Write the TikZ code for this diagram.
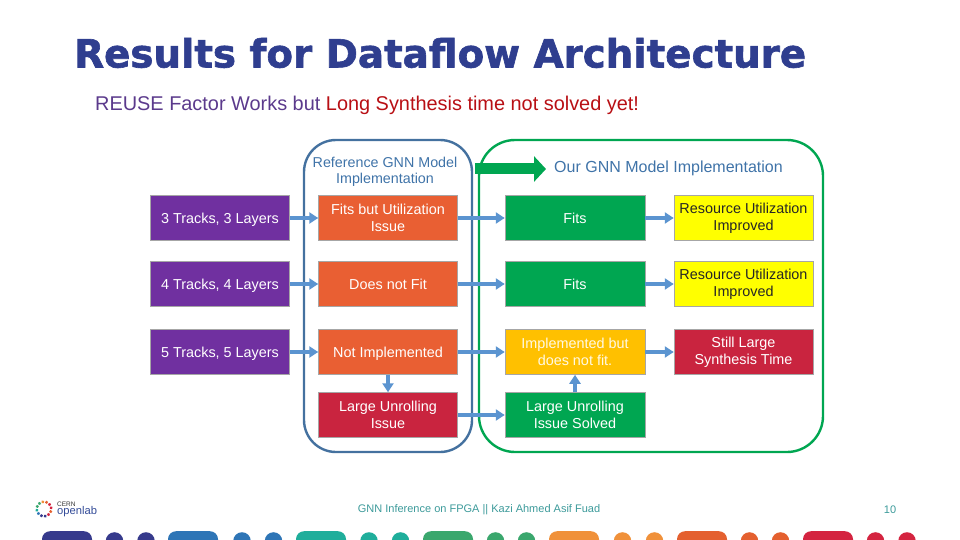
\documentclass[tikz,border=0pt]{standalone}
\usepackage{fontspec}
\setmainfont{Liberation Sans}
\newfontfamily\titlefont[BoldFeatures={FakeBold=1.6}]{DejaVu Sans}
\usetikzlibrary{positioning}
\usetikzlibrary{arrows.meta}
\definecolor{purplebox}{HTML}{7030A0}
\definecolor{orangebox}{HTML}{E95F33}
\definecolor{greenbox}{HTML}{00A651}
\definecolor{redbox}{HTML}{C9243F}
\definecolor{yellowbox}{HTML}{FFFF00}
\definecolor{amberbox}{HTML}{FFC000}
\definecolor{flowblue}{HTML}{5B94D0}
\definecolor{frameblue}{HTML}{44719F}
\definecolor{textblue}{HTML}{3F73A8}
\definecolor{titleblue}{HTML}{2F3E8F}
\definecolor{footteal}{HTML}{3C9A9A}
\definecolor{subpurple}{HTML}{5B3A8C}
\definecolor{subred}{HTML}{B80F14}
\definecolor{stripnavy}{HTML}{363A8C}
\definecolor{stripblue}{HTML}{2E75B6}
\definecolor{stripteal}{HTML}{1FAE9B}
\definecolor{stripgreen}{HTML}{3AA76D}
\definecolor{striporange}{HTML}{F0913A}
\definecolor{stripflame}{HTML}{E4602F}
\definecolor{stripred}{HTML}{D42440}
\tikzset{
    box/.style={draw=black!35, line width=0.5pt, minimum width=139pt, minimum height=45pt, inner sep=0pt, align=center, text=white, font=\fontsize{14.4}{17}\selectfont},
    single/.style={text height=13pt, text depth=3pt},
    flow/.style={draw=flowblue, line width=3.2pt, -{Triangle[length=9pt,width=11pt]}},
    frame/.style={line width=2.4pt, rounded corners=32pt},
    pill/.style={minimum width=50pt, minimum height=20pt, rounded corners=8pt, inner sep=0pt},
    dot/.style={circle, minimum size=17.5pt, inner sep=0pt},
}
\begin{document}
\begin{tikzpicture}[x=1pt, y=-1pt]
    \useasboundingbox (0,0) rectangle (960,540);
    % frames
    \node (R) [draw=frameblue, frame, minimum width=168pt, minimum height=312pt] at (388,296) {};
    \node (O) [draw=greenbox, frame, rounded corners=36pt, minimum width=344pt, minimum height=312pt] at (651,296) {};
    % title
    \node (title) [anchor=west, inner sep=0pt, text=titleblue, font=\titlefont\bfseries\fontsize{38.8}{44}\selectfont] at (74,53) {Results for Dataflow Architecture};
    \node (sub) [anchor=west, inner sep=0pt, font=\fontsize{19.9}{24}\selectfont] at (95,105.5) {\textcolor{subpurple}{REUSE Factor Works but} \textcolor{subred}{Long Synthesis time not solved yet!}};
    % headers
    \node (RH) [align=center, text=textblue, font=\fontsize{14.3}{16}\selectfont] at (385,172) {Reference GNN Model\\Implementation};
    \node (OH) [anchor=west, inner sep=0pt, text=textblue, font=\fontsize{16}{19}\selectfont] at (554,168) {Our GNN Model Implementation};
    \coordinate (AS) at (475,169);
    \coordinate (AE) at (546,169);
    \draw[draw=greenbox, line width=11pt, -{Triangle[length=12pt,width=25pt]}] (AS) -- (AE);
    % row 1
    \node (T3) [box, single, fill=purplebox] at (220,218) {3 Tracks, 3 Layers};
    \node (A3) [box, fill=orangebox] at (388,218) {Fits but Utilization\\Issue};
    \node (B3) [box, single, fill=greenbox, minimum width=140pt] at (575,218) {Fits};
    \node (C3) [box, fill=yellowbox, text=black!85] at (743.5,218) {Resource Utilization\\Improved};
    % row 2
    \node (T4) [box, single, fill=purplebox] at (220,284) {4 Tracks, 4 Layers};
    \node (A4) [box, single, fill=orangebox] at (388,284) {Does not Fit};
    \node (B4) [box, single, fill=greenbox, minimum width=140pt] at (575,284) {Fits};
    \node (C4) [box, fill=yellowbox, text=black!85] at (743.5,284) {Resource Utilization\\Improved};
    % row 3
    \node (T5) [box, single, fill=purplebox] at (220,352) {5 Tracks, 5 Layers};
    \node (A5) [box, single, fill=orangebox] at (388,352) {Not Implemented};
    \node (B5) [box, fill=amberbox, text=white!90!amberbox, minimum width=140pt] at (575,352) {Implemented but\\does not fit.};
    \node (C5) [box, fill=redbox] at (743.5,352) {Still Large\\Synthesis Time};
    % row 4
    \node (A6) [box, fill=redbox] at (388,415) {Large Unrolling\\Issue};
    \node (B6) [box, fill=greenbox, minimum width=140pt] at (575,415) {Large Unrolling\\Issue Solved};
    % arrows
    \foreach \r in {3,4,5} {
        \path[flow] (T\r) -- (A\r);
        \path[flow] (A\r) -- (B\r);
        \path[flow] (B\r) -- (C\r);
    }
    \path[flow] (A5) -- (A6);
    \path[flow] (B6) -- (B5);
    \path[flow] (A6) -- (B6);
    % footer
    \node (foot) [text=footteal, font=\fontsize{11}{13}\selectfont] at (479,509.5) {GNN Inference on FPGA || Kazi Ahmed Asif Fuad};
    \node (page) [text=footteal, font=\fontsize{11}{13}\selectfont] at (890,510) {10};
    % logo
    \node (cern) [anchor=west, inner sep=0pt, text=black!80, font=\fontsize{6.5}{7}\selectfont] at (57,504) {CERN};
    \node (lab) [anchor=west, inner sep=0pt, text=stripnavy!70!stripblue, font=\fontsize{11.2}{12}\selectfont] at (57,512) {openlab};
    \foreach \a/\col in {0/stripred, 30/stripred, 60/stripflame, 90/striporange, 120/stripgreen, 150/stripgreen, 180/stripteal, 210/stripblue, 240/stripnavy, 270/stripnavy, 300/stripred, 330/stripflame}
        \draw[line width=2.4pt, draw=\col] ([shift={(\a:7pt)}]44,509) -- ([shift={(\a+18:7.5pt)}]44,509);
    % bottom strip
    \foreach \c/\col in {67/stripnavy, 193/stripblue, 321/stripteal, 448/stripgreen, 574/striporange, 702/stripflame, 828/stripred}
        \node [pill, fill=\col, anchor=north] at (\c,531) {};
    \foreach \c/\col in {114.5/stripnavy, 146/stripnavy, 242/stripblue, 273.5/stripblue, 369/stripteal, 400.5/stripteal, 495.5/stripgreen, 526.5/stripgreen, 622.5/striporange, 654.5/striporange, 749.5/stripflame, 780.5/stripflame, 875.5/stripred, 907/stripred}
        \node [dot, fill=\col, anchor=north] at (\c,532) {};
\end{tikzpicture}
\end{document}
